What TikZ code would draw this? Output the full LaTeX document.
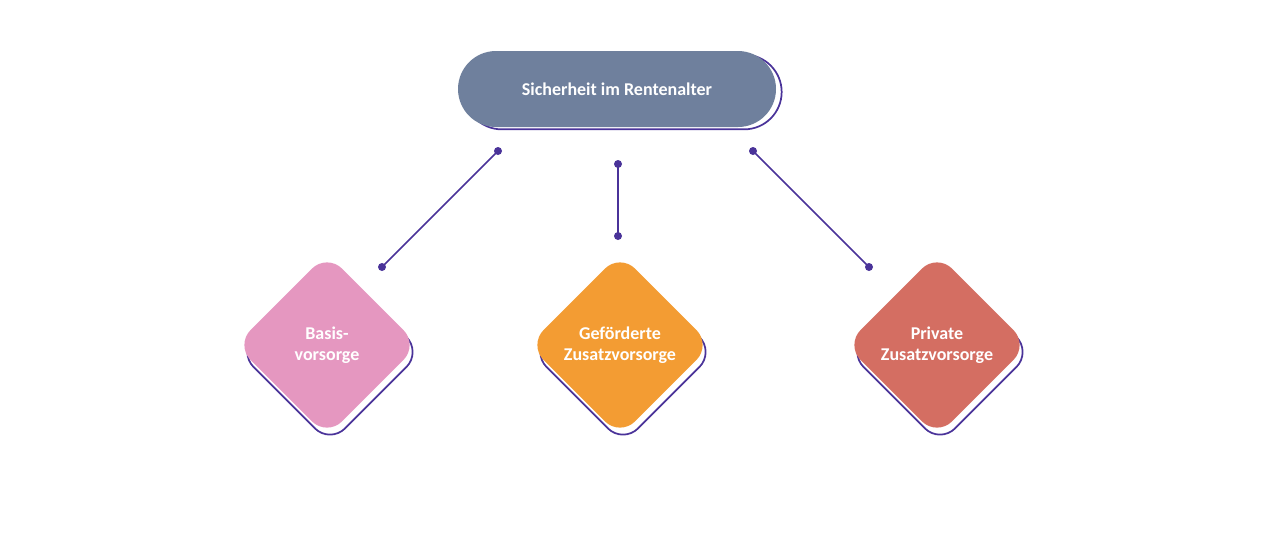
\documentclass[tikz,border=0pt]{standalone}
\usepackage{fontspec}
\setmainfont{Carlito}
\definecolor{pill}{HTML}{6F809D}
\definecolor{line}{HTML}{4A3399}
\definecolor{pinkc}{HTML}{E597C0}
\definecolor{orangec}{HTML}{F39C33}
\definecolor{redc}{HTML}{D46E62}
\tikzset{
  shadowbox/.style={draw=line,line width=1.3pt,minimum size=97pt,rounded corners=16pt,rotate=45,inner sep=0},
  diabox/.style={minimum size=97pt,rounded corners=16pt,rotate=45,inner sep=0},
  lbl/.style={text=white,font=\bfseries\fontsize{13.5}{16}\selectfont,align=center},
  dot/.style={circle,fill=line,inner sep=0,minimum size=6pt},
  conn/.style={draw=line,line width=1.1pt}
}
\begin{document}
\begin{tikzpicture}[x=0.75pt,y=-0.75pt]
\useasboundingbox (0,0) rectangle (1261,537);
\node[draw=line,line width=1.3pt,minimum width=238pt,minimum height=56pt,rounded corners=28pt] (ps) at (623,92) {};
\node[fill=pill,minimum width=238.5pt,minimum height=57pt,rounded corners=28.5pt] (p) at (617,89) {};
\node[lbl] at (p) {Sicherheit im Rentenalter};
\foreach \n/\x/\c/\t in {a/327/pinkc/{Basis-\\vorsorge},b/620/orangec/{Geförderte\\Zusatzvorsorge},c/937/redc/{Private\\Zusatzvorsorge}}{
  \node[shadowbox] (\n s) at (\x+3,352) {};
  \node[diabox,fill=\c] (\n) at (\x,345) {};
  \node[lbl] at (\n) {\t};
}
\node[dot] (d1) at (498,151) {}; \node[dot] (d2) at (382,267) {};
\node[dot] (d3) at (618,164) {}; \node[dot] (d4) at (618,236) {};
\node[dot] (d5) at (753,151) {}; \node[dot] (d6) at (869,267) {};
\draw[conn] (d1.center) -- (d2.center);
\draw[conn] (d3.center) -- (d4.center);
\draw[conn] (d5.center) -- (d6.center);
\end{tikzpicture}
\end{document}
